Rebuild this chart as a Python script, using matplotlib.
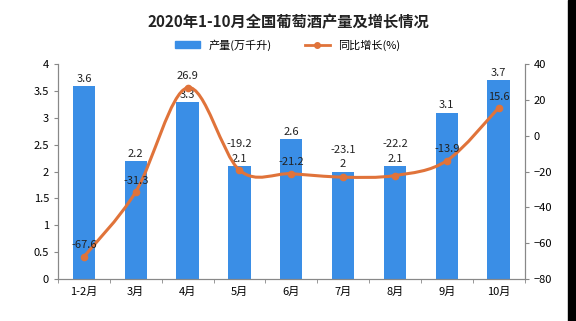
import matplotlib
matplotlib.use("Agg")
import matplotlib.pyplot as plt
from matplotlib.path import Path
from matplotlib.patches import PathPatch, Rectangle
from matplotlib.lines import Line2D
import numpy as np

plt.rcParams['font.family'] = ['Noto Sans CJK SC', 'DejaVu Sans']

months = ['1-2月', '3月', '4月', '5月', '6月', '7月', '8月', '9月', '10月']
output = [3.6, 2.2, 3.3, 2.1, 2.6, 2.0, 2.1, 3.1, 3.7]
growth = [-67.6, -31.3, 26.9, -19.2, -21.2, -23.1, -22.2, -13.9, 15.6]

bar_color = '#3a8ee6'
line_color = '#e0733a'

fig = plt.figure(figsize=(5.76, 3.21), dpi=100)
ax = fig.add_axes([0.1007, 0.131, 0.81, 0.669])
ax2 = ax.twinx()

x = np.arange(len(months))
ax.bar(x, output, width=0.43, color=bar_color, zorder=1)
for xi, v in zip(x, output):
    ax.text(xi, v + 0.04, f'{v:g}', ha='center', va='bottom', fontsize=8, color='#222222')

ax.set_xlim(-0.5, len(months) - 0.5)
ax.set_ylim(0, 4)
ax.set_yticks(np.arange(0, 4.01, 0.5))
ax.set_yticklabels([f'{t:g}' for t in np.arange(0, 4.01, 0.5)])
ax.set_xticks(x)
ax.set_xticklabels(months)
ax.set_xticks(np.arange(-0.5, len(months), 1), minor=True)
ax.tick_params(axis='x', which='major', length=0, labelsize=8, pad=6)
ax.tick_params(axis='x', which='minor', length=3, color='#888888')
ax.tick_params(axis='y', labelsize=8, length=3, color='#888888')

ax2.set_ylim(-80, 40)
ax2.set_yticks(np.arange(-80, 41, 20))
ax2.tick_params(axis='y', labelsize=8, length=3, color='#888888')

for a in (ax, ax2):
    a.spines['top'].set_visible(False)
    for s in ('left', 'right', 'bottom'):
        a.spines[s].set_color('#888888')

# smooth curve through the points (Catmull-Rom as cubic Bezier)
pts = np.column_stack([x, growth]).astype(float)
verts = [tuple(pts[0])]
codes = [Path.MOVETO]
for i in range(len(pts) - 1):
    p0 = pts[i - 1] if i > 0 else pts[i]
    p1 = pts[i]
    p2 = pts[i + 1]
    p3 = pts[i + 2] if i + 2 < len(pts) else pts[i + 1]
    c1 = p1 + (p2 - p0) / 6
    c2 = p2 - (p3 - p1) / 6
    verts += [tuple(c1), tuple(c2), tuple(p2)]
    codes += [Path.CURVE4] * 3
ax2.add_patch(PathPatch(Path(verts, codes), facecolor='none', edgecolor=line_color, lw=2.2, zorder=3))
ax2.plot(x, growth, 'o', color=line_color, ms=4.5, zorder=4)

for xi, v, b in zip(x, growth, output):
    y = v + 3.5
    bar_top = b / 4 * 120 - 80
    # keep the growth label clear of the bar label when they sit close together
    if abs(y - bar_top) < 9:
        y = bar_top + 9.5
    ax2.text(xi, y, f'{v:g}', ha='center', va='bottom', fontsize=8, color='#222222', zorder=5)

fig.text(0.5, 0.93, '2020年1-10月全国葡萄酒产量及增长情况', ha='center', va='center',
         fontsize=11, fontweight='bold', color='#222222')

handles = [Rectangle((0, 0), 1, 1, color=bar_color),
           Line2D([0], [0], color=line_color, lw=2, marker='o', ms=4)]
fig.legend(handles, ['产量(万千升)', '同比增长(%)'], loc='center', bbox_to_anchor=(0.5, 0.86),
           ncol=2, frameon=False, fontsize=8, handlelength=2.2, handleheight=0.6, columnspacing=3)

fig.patches.append(Rectangle((0.986, 0), 0.014, 1, transform=fig.transFigure, color='black'))

fig.savefig('out.png', dpi=100)
